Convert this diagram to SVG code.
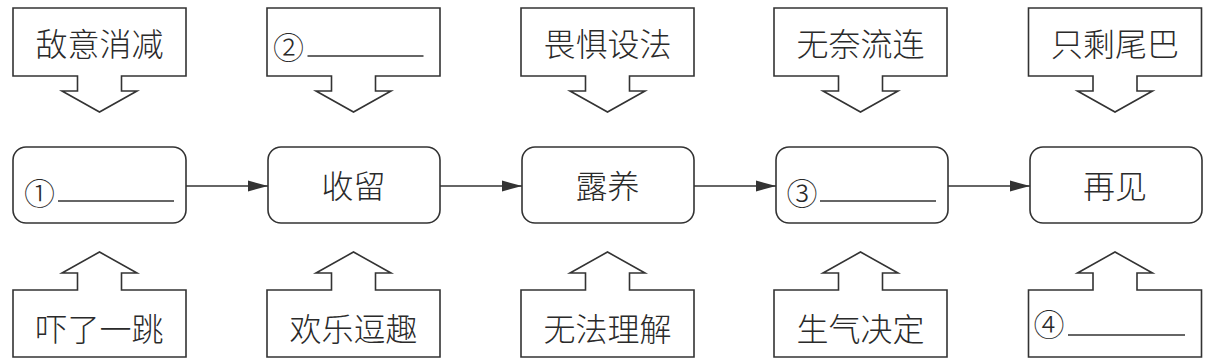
<svg xmlns="http://www.w3.org/2000/svg" width="1215" height="363" viewBox="0 0 1215 363">
<style>
.sh{fill:#fff;stroke:#333;stroke-width:1.6;stroke-linejoin:miter}
.t{font-family:"Noto Sans CJK SC","Noto Sans",sans-serif;font-size:32px;font-weight:300;fill:#2a2a2a;text-anchor:middle;dominant-baseline:central}
.n{font-family:"Noto Sans CJK SC","DejaVu Sans",sans-serif;font-size:31px;font-weight:300;fill:#2a2a2a;text-anchor:middle;dominant-baseline:central}
.u{stroke:#333;stroke-width:1.6}
.c{stroke:#333;stroke-width:1.6;fill:none}
</style>
<defs>
<marker id="ah" markerWidth="20" markerHeight="12" refX="20" refY="6" orient="auto" markerUnits="userSpaceOnUse">
<path d="M0,0.5 L20,6 L0,11.5 Z" fill="#333"/>
</marker>
<path id="down" d="M-86.5,8 H86.5 V76 H22 V91 H37.5 L0,112 L-37.5,91 H-22 V76 H-86.5 Z"/>
<path id="up" d="M-86.5,357 H86.5 V290 H22 V273 H37.5 L0,252 L-37.5,273 H-22 V290 H-86.5 Z"/>
</defs>
<g id="connectors">
<line class="c" x1="186" y1="186" x2="268" y2="186" marker-end="url(#ah)"/>
<line class="c" x1="440" y1="186" x2="522" y2="186" marker-end="url(#ah)"/>
<line class="c" x1="694" y1="186" x2="776" y2="186" marker-end="url(#ah)"/>
<line class="c" x1="948" y1="186" x2="1030" y2="186" marker-end="url(#ah)"/>
</g>
<g id="top1" transform="translate(99.5,0)"><use href="#down" class="sh"/><text class="t" x="0" y="42">敌意消减</text></g>
<g id="top2" transform="translate(353.5,0)"><use href="#down" class="sh"/><text class="n" x="-65" y="45">②</text><line class="u" x1="-46" y1="56" x2="70" y2="56"/></g>
<g id="top3" transform="translate(607.5,0)"><use href="#down" class="sh"/><text class="t" x="0" y="42">畏惧设法</text></g>
<g id="top4" transform="translate(860.5,0)"><use href="#down" class="sh"/><text class="t" x="0" y="42">无奈流连</text></g>
<g id="top5" transform="translate(1115,0)"><use href="#down" class="sh"/><text class="t" x="0" y="42">只剩尾巴</text></g>
<g id="mid1"><rect class="sh" x="13" y="147" width="173" height="76" rx="13"/><text class="n" x="39.5" y="191">①</text><line class="u" x1="58" y1="201" x2="174" y2="201"/></g>
<g id="mid2"><rect class="sh" x="268" y="147" width="172" height="76" rx="13"/><text class="t" x="353.5" y="184">收留</text></g>
<g id="mid3"><rect class="sh" x="522" y="147" width="172" height="76" rx="13"/><text class="t" x="607.5" y="184">露养</text></g>
<g id="mid4"><rect class="sh" x="776" y="147" width="172" height="76" rx="13"/><text class="n" x="802" y="191">③</text><line class="u" x1="820" y1="201" x2="936" y2="201"/></g>
<g id="mid5"><rect class="sh" x="1030" y="147" width="172" height="76" rx="13"/><text class="t" x="1115" y="184">再见</text></g>
<g id="bot1" transform="translate(99.5,0)"><use href="#up" class="sh"/><text class="t" x="0" y="327">吓了一跳</text></g>
<g id="bot2" transform="translate(353.5,0)"><use href="#up" class="sh"/><text class="t" x="0" y="327">欢乐逗趣</text></g>
<g id="bot3" transform="translate(607.5,0)"><use href="#up" class="sh"/><text class="t" x="0" y="327">无法理解</text></g>
<g id="bot4" transform="translate(860.5,0)"><use href="#up" class="sh"/><text class="t" x="0" y="327">生气决定</text></g>
<g id="bot5" transform="translate(1115,0)"><use href="#up" class="sh"/><text class="n" x="-66" y="322">④</text><line class="u" x1="-47" y1="335" x2="70" y2="335"/></g>
</svg>
